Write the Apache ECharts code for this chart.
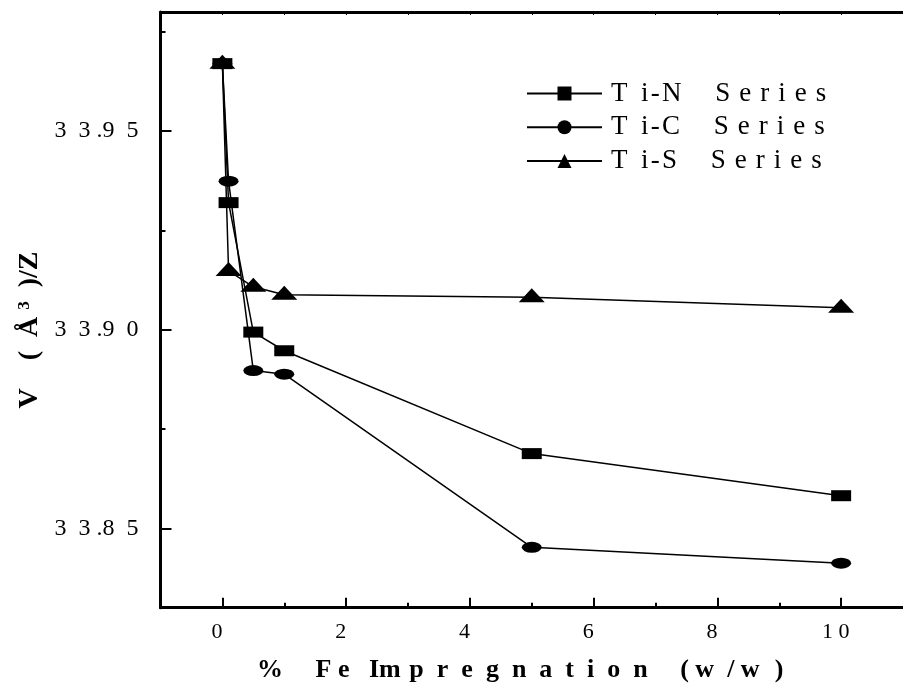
<!DOCTYPE html>
<html>
<head>
<meta charset="utf-8">
<script src="https://cdn.jsdelivr.net/npm/echarts@6/dist/echarts.min.js"></script>
<style>
  html, body { margin: 0; padding: 0; background: #fff; }
  #chart { width: 903px; height: 684px; }
</style>
</head>
<body>
<div id="chart"></div>
<script>
// Fe loading (% w/w) and cell volume per formula unit for each series
const feLoading = [0, 0.1, 0.5, 1, 5, 10];
const tiN = [33.967, 33.932, 33.8994, 33.8947, 33.8688, 33.8582];
const tiC = [33.967, 33.9374, 33.8897, 33.8888, 33.8452, 33.8412];
const tiS = [33.967, 33.9148, 33.9108, 33.9088, 33.9082, 33.9055];
const seriesNames = ['Ti-N Series', 'Ti-C Series', 'Ti-S Series'];

// Axis ticks
const xMajorTicks = [0, 2, 4, 6, 8, 10];
const xMinorTicks = [1, 3, 5, 7, 9];
const xAllTicks = [0, 1, 2, 3, 4, 5, 6, 7, 8, 9, 10];
const yMajorTicks = [33.85, 33.90, 33.95];
const yMinorTicks = [33.875, 33.925, 33.975];

const X_MIN = -1, X_MAX = 11;
const Y_MIN = 33.83, Y_MAX = 33.98;

const SERIF = '"Liberation Serif", "Times New Roman", serif';
const EN = '\u2002', EM = '\u2003', HAIR = '\u200A';

// Letter-spaced axis title
const xTitle = '%' + EM + ' ' + 'F e' + EN + ' ' + 'Im' + ' ' + HAIR
  + ['p', 'r', 'e', 'g', 'n', 'a', 't', 'i', 'o', 'n'].join(EN)
  + EM + ' ' + '(' + ' ' + 'w' + EN + '/' + ' ' + 'w' + EN + HAIR + ')';

function pairs(ys) {
  return feLoading.map((x, i) => [x, ys[i]]);
}

function spacedYLabel(v) {
  const s = v.toFixed(2);
  return s[0] + EN + s[1] + ' .' + s[3] + EN + s[4];
}

function spacedXLabel(v) {
  return String(v).split('').join(' ') + EN;
}

function spacedLegend(name) {
  const parts = name.split(' ');
  const head = parts[0];
  const tail = parts[1];
  return head[0] + EN + head.slice(1).split('').join(HAIR) + EM + ' ' + tail.split('').join(' ' + HAIR);
}

const chart = echarts.init(document.getElementById('chart'), null, { renderer: 'canvas' });

const gridRect = { left: 160.5, right: -10, top: 12, bottom: 76.3 };

const lineBase = {
  type: 'line',
  xAxisIndex: 0,
  yAxisIndex: 0,
  showAllSymbol: true,
  lineStyle: { color: '#000', width: 1.5 },
  itemStyle: { color: '#000' },
  emphasis: { disabled: true }
};

chart.setOption({
  animation: false,
  backgroundColor: '#fff',
  grid: [
    Object.assign({}, gridRect),
    Object.assign({}, gridRect)
  ],
  legend: {
    orient: 'vertical',
    left: 526,
    top: 80,
    padding: 0,
    itemWidth: 75,
    itemHeight: 17.5,
    itemGap: 6.8,
    selectedMode: false,
    data: seriesNames,
    formatter: spacedLegend,
    textStyle: { fontFamily: SERIF, fontSize: 27, color: '#000', lineHeight: 17.5, padding: [0, 0, 0, 4] }
  },
  xAxis: [
    {
      gridIndex: 0, type: 'value', position: 'bottom', min: X_MIN, max: X_MAX,
      axisLine: { onZero: false, lineStyle: { color: '#000', width: 3 } },
      axisTick: { inside: true, length: 10, customValues: xMajorTicks, lineStyle: { color: '#000', width: 2 } },
      axisLabel: {
        customValues: xMajorTicks,
        formatter: spacedXLabel,
        fontFamily: SERIF, fontSize: 22, color: '#000', margin: 14
      },
      splitLine: { show: false }
    },
    {
      gridIndex: 0, type: 'value', position: 'top', min: X_MIN, max: X_MAX,
      axisLine: { onZero: false, lineStyle: { color: '#000', width: 3 } },
      axisTick: { inside: true, length: 3, customValues: xAllTicks, lineStyle: { color: '#000', width: 1 } },
      axisLabel: { show: false },
      splitLine: { show: false }
    },
    {
      gridIndex: 1, type: 'value', position: 'bottom', min: X_MIN, max: X_MAX,
      axisLine: { show: false, onZero: false },
      axisTick: { inside: true, length: 5, customValues: xMinorTicks, lineStyle: { color: '#000', width: 2 } },
      axisLabel: { show: false },
      splitLine: { show: false }
    }
  ],
  yAxis: [
    {
      gridIndex: 0, type: 'value', position: 'left', min: Y_MIN, max: Y_MAX,
      axisLine: { onZero: false, lineStyle: { color: '#000', width: 3 } },
      axisTick: { inside: true, length: 11, customValues: yMajorTicks, lineStyle: { color: '#000', width: 2 } },
      axisLabel: {
        customValues: yMajorTicks,
        formatter: spacedYLabel,
        fontFamily: SERIF, fontSize: 24, color: '#000', margin: 22
      },
      splitLine: { show: false }
    },
    {
      gridIndex: 1, type: 'value', position: 'left', min: Y_MIN, max: Y_MAX,
      axisLine: { show: false, onZero: false },
      axisTick: { inside: true, length: 5, customValues: yMinorTicks, lineStyle: { color: '#000', width: 2 } },
      axisLabel: { show: false },
      splitLine: { show: false }
    }
  ],
  graphic: [
    {
      type: 'text', x: 30, y: 330, rotation: Math.PI / 2,
      style: {
        text: '{b|V ' + EN + ' (  Å }{s|3}{b|  )/Z}',
        rich: {
          b: { font: 'bold 28px ' + SERIF, fill: '#000' },
          s: { font: 'bold 17px ' + SERIF, fill: '#000', verticalAlign: 'top' }
        },
        textAlign: 'center', textVerticalAlign: 'middle'
      }
    },
    {
      type: 'text', x: 257, y: 670,
      style: {
        text: xTitle, font: 'bold 26px ' + SERIF, fill: '#000',
        textAlign: 'left', textVerticalAlign: 'middle'
      }
    }
  ],
  series: [
    Object.assign({}, lineBase, { name: seriesNames[0], data: pairs(tiN), symbol: 'rect', symbolSize: [20, 11], z: 2 }),
    Object.assign({}, lineBase, { name: seriesNames[1], data: pairs(tiC), symbol: 'circle', symbolSize: [20, 11], z: 3 }),
    Object.assign({}, lineBase, { name: seriesNames[2], data: pairs(tiS), symbol: 'triangle', symbolSize: [26, 14], symbolOffset: [0, -2], z: 4 })
  ]
});
</script>
</body>
</html>
